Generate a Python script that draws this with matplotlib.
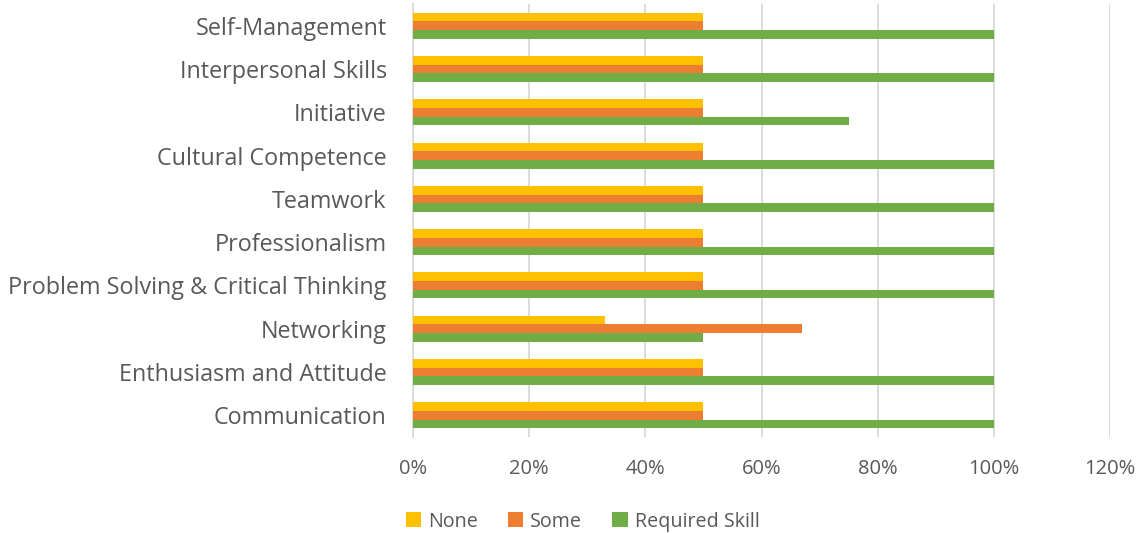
import numpy as np
import matplotlib.pyplot as plt
from matplotlib.ticker import FuncFormatter

# Categories bottom to top
categories = [
    "Communication",
    "Enthusiasm and Attitude",
    "Networking",
    "Problem Solving & Critical Thinking",
    "Professionalism",
    "Teamwork",
    "Cultural Competence",
    "Initiative",
    "Interpersonal Skills",
    "Self-Management",
]
none_vals = [0.50, 0.50, 0.33, 0.50, 0.50, 0.50, 0.50, 0.50, 0.50, 0.50]
some_vals = [0.50, 0.50, 0.67, 0.50, 0.50, 0.50, 0.50, 0.50, 0.50, 0.50]
required_vals = [1.00, 1.00, 0.50, 1.00, 1.00, 1.00, 1.00, 0.75, 1.00, 1.00]

x_ticks = [0, 0.2, 0.4, 0.6, 0.8, 1.0, 1.2]

plt.rcParams["font.family"] = ["Open Sans", "DejaVu Sans"]
text_color = "#595959"

fig = plt.figure(figsize=(11.4, 5.33), dpi=100)
ax = fig.add_axes([0.3623, 0.18, 0.6114, 0.8125])

y = np.arange(len(categories))
h = 0.2
ax.barh(y + h, none_vals, height=h, color="#FFC000", label="None", zorder=3)
ax.barh(y, some_vals, height=h, color="#ED7D31", label="Some", zorder=3)
ax.barh(y - h, required_vals, height=h, color="#70AD47", label="Required Skill", zorder=3)

ax.set_ylim(-0.5, len(categories) - 0.5)
ax.set_xlim(0, 1.2)
ax.set_xticks(x_ticks)
ax.xaxis.set_major_formatter(FuncFormatter(lambda v, p: f"{v * 100:.0f}%"))
ax.set_yticks(y)
ax.set_yticklabels(categories)

ax.grid(axis="x", color="#D9D9D9", linewidth=1.3, zorder=0)
for s in ["top", "right", "bottom"]:
    ax.spines[s].set_visible(False)
ax.spines["left"].set_color("#D9D9D9")
ax.spines["left"].set_linewidth(1.3)
ax.tick_params(axis="both", length=0, colors=text_color)
ax.tick_params(axis="y", labelsize=16.8, pad=19)
ax.tick_params(axis="x", labelsize=14.5, pad=16)

fig.legend(loc="center", bbox_to_anchor=(0.511, 0.021), ncol=3, frameon=False,
           fontsize=14.2, labelcolor=text_color, handlelength=0.8, handleheight=0.8,
           handletextpad=0.35, columnspacing=1.5)

fig.savefig("out.png", dpi=100)
